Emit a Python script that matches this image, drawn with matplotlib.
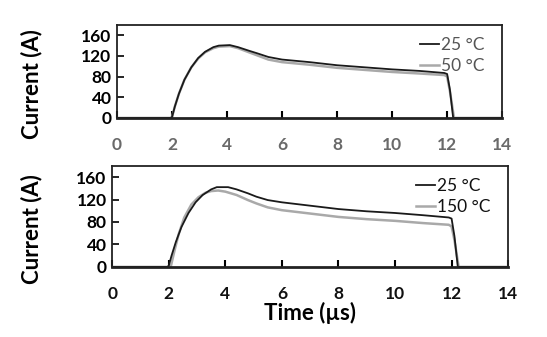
import matplotlib.pyplot as plt

plt.rcParams['font.family'] = ['Lato', 'DejaVu Sans']

# time points (us) and current (A)
t_25 = [0, 1.95, 2.0, 2.1, 2.25, 2.45, 2.7, 2.95, 3.2, 3.5, 3.7, 4.1, 4.4, 4.8, 5.1, 5.5, 6.0,
        7.0, 8.0, 9.0, 10.0, 11.0, 11.9, 12.0, 12.1, 12.22, 12.4, 14]
i_25_top = [0, 0, 2, 22, 47, 74, 98, 116, 128, 137, 140, 141, 137, 130, 125, 118, 113,
            108, 102, 98, 94, 91, 87, 85, 55, 0, 0, 0]
i_25_bot = [0, 0, 2, 20, 44, 71, 96, 115, 128, 138, 142, 142, 138, 131, 125, 119, 115,
            109, 103, 99, 96, 92, 88, 86, 55, 0, 0, 0]

t_50 = [0, 1.95, 2.0, 2.1, 2.25, 2.45, 2.7, 2.95, 3.2, 3.5, 3.7, 4.1, 4.4, 4.8, 5.1, 5.5, 6.0,
        7.0, 8.0, 9.0, 10.0, 11.0, 11.9, 12.0, 12.1, 12.25, 12.4, 14]
i_50 = [0, 0, 2, 22, 47, 74, 98, 115, 127, 135, 138, 139, 135, 127, 121, 113, 108,
        103, 97, 93, 89, 86, 83, 80, 52, 0, 0, 0]

t_150 = [0, 2.0, 2.08, 2.2, 2.35, 2.55, 2.8, 3.05, 3.3, 3.5, 3.75, 4.0, 4.4, 4.8, 5.1, 5.5, 6.0,
         7.0, 8.0, 9.0, 10.0, 11.0, 11.9, 12.0, 12.1, 12.25, 12.4, 14]
i_150 = [0, 0, 2, 28, 58, 88, 111, 124, 132, 135, 136, 134, 128, 119, 113, 106, 101,
         95, 89, 85, 82, 78, 75, 72, 48, 0, 0, 0]

dark = '#1a1a1a'
light = '#a9a9a9'

fig = plt.figure(figsize=(5.47, 3.37), dpi=100)
ax1 = fig.add_axes([0.214, 0.650, 0.704, 0.276])
ax2 = fig.add_axes([0.205, 0.208, 0.724, 0.300])

panels = [
    (ax1, i_25_top, t_50, i_50, '50 °C', '#6a6a6a', '#555555', (-0.195, 0.366)),
    (ax2, i_25_bot, t_150, i_150, '150 °C', '#111111', '#111111', (-0.177, 0.376)),
]

for ax, i25, t2, i2, lab2, tickcol, legcol, labpos in panels:
    ax.plot(t2, i2, color=light, lw=1.8, label=lab2)
    ax.plot(t_25, i25, color=dark, lw=1.3, label='25 °C')
    ax.set_xlim(0, 14)
    ax.set_ylim(0, 180)
    ax.set_xticks(range(0, 15, 2))
    ax.set_yticks(range(0, 161, 40))
    ax.tick_params(axis='x', direction='in', length=5, width=1.5, pad=14,
                   labelsize=12.5, labelcolor=tickcol)
    ax.tick_params(axis='y', direction='in', length=5, width=1.2, pad=4,
                   labelsize=12.5)
    for lbl in ax.get_xticklabels() + ax.get_yticklabels():
        lbl.set_fontweight('bold')
    for sp in ax.spines.values():
        sp.set_linewidth(1.3)
        sp.set_color('#222222')
    ax.spines['bottom'].set_linewidth(2)
    ax.set_ylabel('Current (A)', fontsize=16, fontweight='bold')
    ax.yaxis.set_label_coords(*labpos)
    handles, labels = ax.get_legend_handles_labels()
    leg = ax.legend(handles[::-1], labels[::-1], loc='upper right', frameon=False,
                    fontsize=12.5, handlelength=1.1, handletextpad=0.1,
                    labelspacing=0.3, borderaxespad=0.3,
                    bbox_to_anchor=(0.985, 1.0))
    for txt in leg.get_texts():
        txt.set_color(legcol)

ax2.set_xlabel('Time (µs)', fontsize=16, fontweight='bold', labelpad=0)

fig.savefig('out.png', dpi=100)
